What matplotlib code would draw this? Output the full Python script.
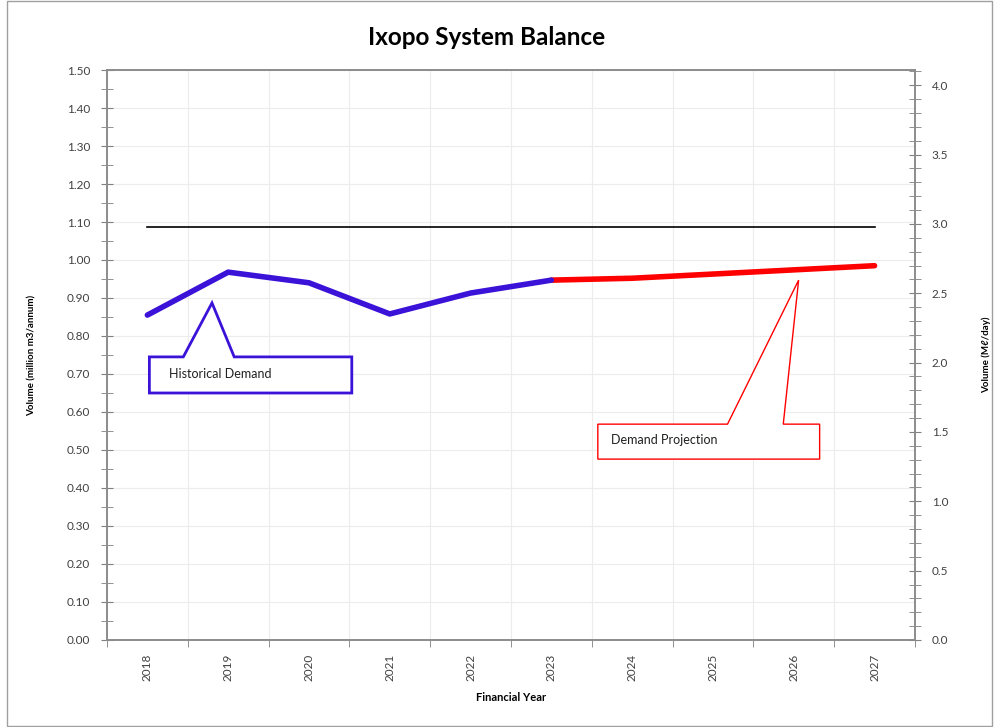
import matplotlib
matplotlib.use("Agg")
from matplotlib import pyplot as plt
from matplotlib.patches import Polygon, Rectangle
from matplotlib.ticker import MultipleLocator, FormatStrFormatter

plt.rcParams['font.family'] = ['Lato', 'DejaVu Sans']

years = ['2018', '2019', '2020', '2021', '2022', '2023', '2024', '2025', '2026', '2027']
historical = [0.855, 0.968, 0.940, 0.858, 0.913, 0.947]
projection = [0.947, 0.952, 0.963, 0.974, 0.985]
capacity = [1.087] * len(years)

ML_PER_DAY = 1000.0 / 365.0  # million m3/annum -> Ml/day

blue = '#3a12d8'
red = '#ff0000'

fig = plt.figure(figsize=(9.94, 7.27), dpi=100)
ax = fig.add_axes([0.1076, 0.1197, 0.8129, 0.784])

x_hist = list(range(len(historical)))
x_proj = list(range(len(historical) - 1, len(years)))

ax.plot(range(len(years)), capacity, color='black', lw=1.2, zorder=3)
ax.plot(x_proj, projection, color=red, lw=4, solid_capstyle='round', zorder=4)
ax.plot(x_hist, historical, color=blue, lw=4, solid_capstyle='round', zorder=5)

ax.set_xlim(-0.5, len(years) - 0.5)
ax.set_ylim(0, 1.5)

ax.set_xticks(range(len(years)))
ax.set_xticklabels(years, rotation=90, fontsize=8.5, color='#404040')
ax.set_xticks([i + 0.5 for i in range(-1, len(years))], minor=True)
ax.tick_params(axis='x', which='major', length=0, pad=10)
ax.tick_params(axis='x', which='minor', length=5, direction='out', color='#808080')

ax.yaxis.set_major_locator(MultipleLocator(0.1))
ax.yaxis.set_minor_locator(MultipleLocator(0.05))
ax.yaxis.set_major_formatter(FormatStrFormatter('%.2f'))
ax.tick_params(axis='y', which='major', direction='inout', length=8, labelsize=8.5,
               labelcolor='#404040', color='#808080', pad=8)
ax.tick_params(axis='y', which='minor', direction='inout', length=8, color='#808080')

ax.grid(True, which='major', axis='y', color='#ececec', lw=0.8)
ax.grid(True, which='minor', axis='x', color='#ececec', lw=0.8)
ax.set_axisbelow(True)
for s in ax.spines.values():
    s.set_color('#8c8c8c')
    s.set_linewidth(1.2)

fig.text(0.489, 0.948, 'Ixopo System Balance', fontsize=17.5, fontweight='bold',
         ha='center', va='center')
ax.set_xlabel('Financial Year', fontsize=8, fontweight='bold', labelpad=8)
ax.set_ylabel('Volume (million m3/annum)', fontsize=7, fontweight='bold', labelpad=22)

ax2 = ax.twinx()
ax2.set_ylim(0, 1.5 * ML_PER_DAY)
ax2.yaxis.set_major_locator(MultipleLocator(0.5))
ax2.yaxis.set_minor_locator(MultipleLocator(0.1))
ax2.yaxis.set_major_formatter(FormatStrFormatter('%.1f'))
ax2.tick_params(axis='y', which='major', direction='inout', length=8, labelsize=8.5,
                labelcolor='#404040', color='#808080', pad=8)
ax2.tick_params(axis='y', which='minor', direction='inout', length=8, color='#808080')
ax2.set_ylabel('Volume (M\u2113/day)', fontsize=7, fontweight='bold', labelpad=24)
for s in ax2.spines.values():
    s.set_color('#8c8c8c')
    s.set_linewidth(1.2)


def callout(x0, x1, y0, y1, b0, b1, tip, color, lw, text, tx, ty):
    pts = [(x0, y1), (b0, y1), tip, (b1, y1), (x1, y1), (x1, y0), (x0, y0)]
    ax.add_patch(Polygon(pts, closed=True, facecolor='white', edgecolor=color,
                         lw=lw, zorder=6, joinstyle='miter'))
    ax.text(tx, ty, text, fontsize=9, color='#202020', va='center', ha='left', zorder=7)


callout(0.025, 2.53, 0.65, 0.745, 0.445, 1.075, (0.80, 0.887), blue, 2,
        'Historical Demand', 0.27, 0.70)
callout(5.575, 8.32, 0.476, 0.568, 7.18, 7.87, (8.06, 0.947), red, 1,
        'Demand Projection', 5.74, 0.527)

fig.patches.append(Rectangle((0.007, 0.002), 0.991, 0.996, transform=fig.transFigure,
                             fill=False, edgecolor='#a0a0a0', lw=1))

fig.savefig('out.png', dpi=100)
